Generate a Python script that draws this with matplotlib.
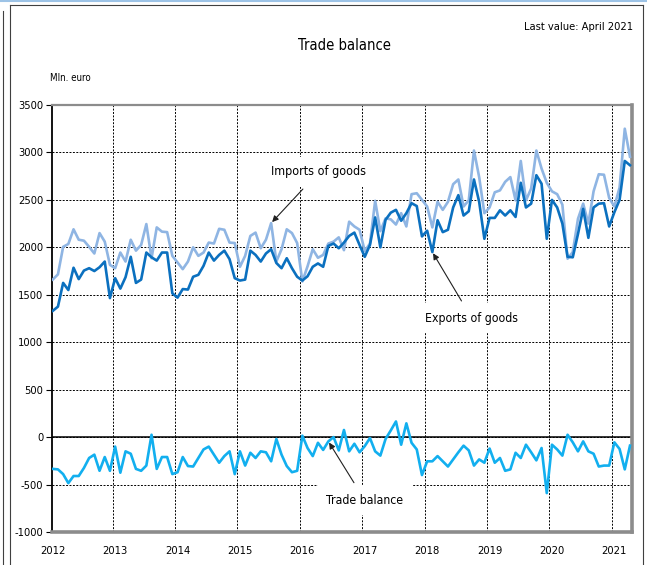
import numpy as np
import matplotlib.pyplot as plt
from matplotlib.lines import Line2D

plt.rcParams['font.family'] = ['DejaVu Sans']
plt.rcParams['font.stretch'] = 'condensed'
plt.rcParams['axes.unicode_minus'] = False

# monthly values, Jan 2012 - Apr 2021, mln. euro
years = ['2012', '2013', '2014', '2015', '2016', '2017', '2018', '2019', '2020', '2021']

exports = [
    1330, 1375, 1625, 1550, 1785, 1665, 1755, 1780, 1750, 1790, 1850, 1465,
    1675, 1565, 1685, 1900, 1625, 1660, 1945, 1895, 1860, 1945, 1945, 1515,
    1470, 1560, 1555, 1690, 1710, 1805, 1945, 1860, 1920, 1965, 1875, 1675,
    1650, 1660, 1965, 1920, 1850, 1935, 1980, 1835, 1780, 1885, 1780, 1690,
    1650, 1695, 1795, 1830, 1795, 2015, 2040, 1990, 2050, 2120, 2155, 2025,
    1900, 2025, 2315, 2000, 2290, 2365, 2395, 2280, 2360, 2465, 2435, 2115,
    2175, 1950, 2285, 2160, 2185, 2420, 2550, 2335, 2380, 2715, 2480, 2090,
    2310, 2310, 2390, 2335, 2390, 2320, 2680, 2420, 2460, 2760, 2670, 2090,
    2500, 2420, 2250, 1900, 1895, 2140, 2405, 2100, 2420, 2460, 2465, 2220,
    2370, 2500, 2910, 2865,
]

imports = [
    1660, 1715, 2005, 2035, 2190, 2080, 2070, 2005, 1935, 2150, 2060, 1815,
    1780, 1945, 1850, 2080, 1965, 2025, 2245, 1885, 2210, 2165, 2160, 1910,
    1840, 1770, 1850, 2000, 1910, 1945, 2050, 2040, 2195, 2185, 2050, 2045,
    1795, 1910, 2120, 2155, 1990, 2080, 2255, 1850, 1980, 2190, 2150, 2045,
    1640, 1800, 1980, 1890, 1920, 2040, 2060, 2105, 1970, 2270, 2220, 2185,
    1960, 2040, 2490, 2170, 2305, 2295, 2240, 2360, 2220, 2560, 2570, 2500,
    2430, 2210, 2480, 2395, 2480, 2665, 2715, 2430, 2495, 3020, 2740, 2360,
    2420, 2580, 2600, 2690, 2740, 2495, 2910, 2495, 2620, 3020, 2830, 2680,
    2590, 2560, 2450, 1880, 1950, 2300, 2460, 2250, 2590, 2770, 2765, 2520,
    2430, 2630, 3250, 2955,
]

balance = [
    -335, -340, -390, -485, -410, -410, -325, -220, -185, -355, -210, -355,
    -100, -375, -150, -175, -335, -355, -300, 25, -335, -210, -210, -390,
    -370, -210, -305, -310, -220, -130, -100, -185, -270, -200, -150, -390,
    -150, -300, -165, -220, -150, -160, -255, -20, -185, -305, -370, -355,
    15, -115, -200, -60, -135, -45, 0, -140, 75, -150, -70, -160,
    -95, -10, -150, -195, -20, 70, 165, -80, 145, -60, -130, -400,
    -255, -255, -200, -255, -310, -235, -160, -90, -140, -300, -235, -270,
    -120, -270, -220, -355, -340, -165, -220, -80, -160, -245, -115, -590,
    -80, -130, -195, 25, -55, -150, -45, -150, -175, -310, -300, -300,
    -55, -125, -340, -90,
]

months = np.arange(len(exports))

fig = plt.figure(figsize=(6.47, 5.65), dpi=100)
ax = fig.add_axes([0.0799, 0.0584, 0.897, 0.7558])

ax.plot(months, imports, color='#8FB5E3', lw=1.9, zorder=4)
ax.plot(months, exports, color='#0B70BF', lw=1.9, zorder=5)
ax.plot(months, balance, color='#12AFEF', lw=1.9, zorder=5)
ax.axhline(0, color='black', lw=1.1, zorder=2)

ax.set_xlim(-0.2, 111.4)
ax.set_ylim(-1000, 3500)

# y axis
ax.set_yticks(np.arange(-1000, 3501, 500))
ax.yaxis.grid(True, color='black', ls=(0, (2, 1.5)), lw=0.7, zorder=1)
ax.tick_params(axis='y', length=4, width=0.8, direction='out', labelsize=8, pad=2)

# x axis: labels on January, grid between December and January
ax.set_xticks(np.arange(0, len(months), 12))
ax.set_xticklabels(years)
ax.set_xticks(np.arange(11.5, len(months), 12), minor=True)
ax.xaxis.grid(True, which='minor', color='black', ls=(0, (2, 1.5)), lw=0.7, zorder=1)
ax.tick_params(axis='x', which='both', length=0, labelsize=8, pad=10)

ax.spines['left'].set_color('black')
ax.spines['left'].set_linewidth(1.3)
ax.spines['top'].set_color('#8c8c8c')
ax.spines['top'].set_linewidth(1.6)
ax.spines['right'].set_color('#8c8c8c')
ax.spines['right'].set_linewidth(2.6)
ax.spines['bottom'].set_color('#8c8c8c')
ax.spines['bottom'].set_linewidth(2.6)

# labels with arrows
box = dict(boxstyle='square,pad=0.7', fc='white', ec='none')
arrow = dict(arrowstyle='-|>', color='#202020', lw=0.8, mutation_scale=9, shrinkB=1)

ax.annotate('Imports of goods', xy=(42, imports[42]), xytext=(51.2, 2796),
            ha='center', va='center', fontsize=9, bbox=box, arrowprops=arrow, zorder=3)
ax.annotate('Exports of goods', xy=(73, exports[73]), xytext=(80.6, 1251),
            ha='center', va='center', fontsize=8.8, bbox=box, arrowprops=arrow, zorder=3)
ax.annotate('Trade balance', xy=(53, balance[53]), xytext=(60.0, -664),
            ha='center', va='center', fontsize=8.8, bbox=box, arrowprops=arrow, zorder=3)

# texts above the plot
fig.text(0.533, 0.919, 'Trade balance', ha='center', va='center', fontsize=10.5)
fig.text(0.978, 0.952, 'Last value: April 2021', ha='right', va='center', fontsize=8)
fig.text(0.078, 0.862, 'Mln. euro', ha='left', va='center', fontsize=7)

# outer frame
fig.add_artist(Line2D([0, 1], [0.999, 0.999], color='#9DC3E6', lw=1.5))
fig.add_artist(Line2D([0.0042, 0.0042], [0, 0.98], color='#404040', lw=0.8))
fig.add_artist(Line2D([0.0155, 0.0155], [0, 0.991], color='#404040', lw=0.8))
fig.add_artist(Line2D([0.0155, 0.9938], [0.991, 0.991], color='#404040', lw=0.8))
fig.add_artist(Line2D([0.9938, 0.9938], [0, 0.991], color='#404040', lw=0.8))

fig.savefig('out.png', dpi=100)
